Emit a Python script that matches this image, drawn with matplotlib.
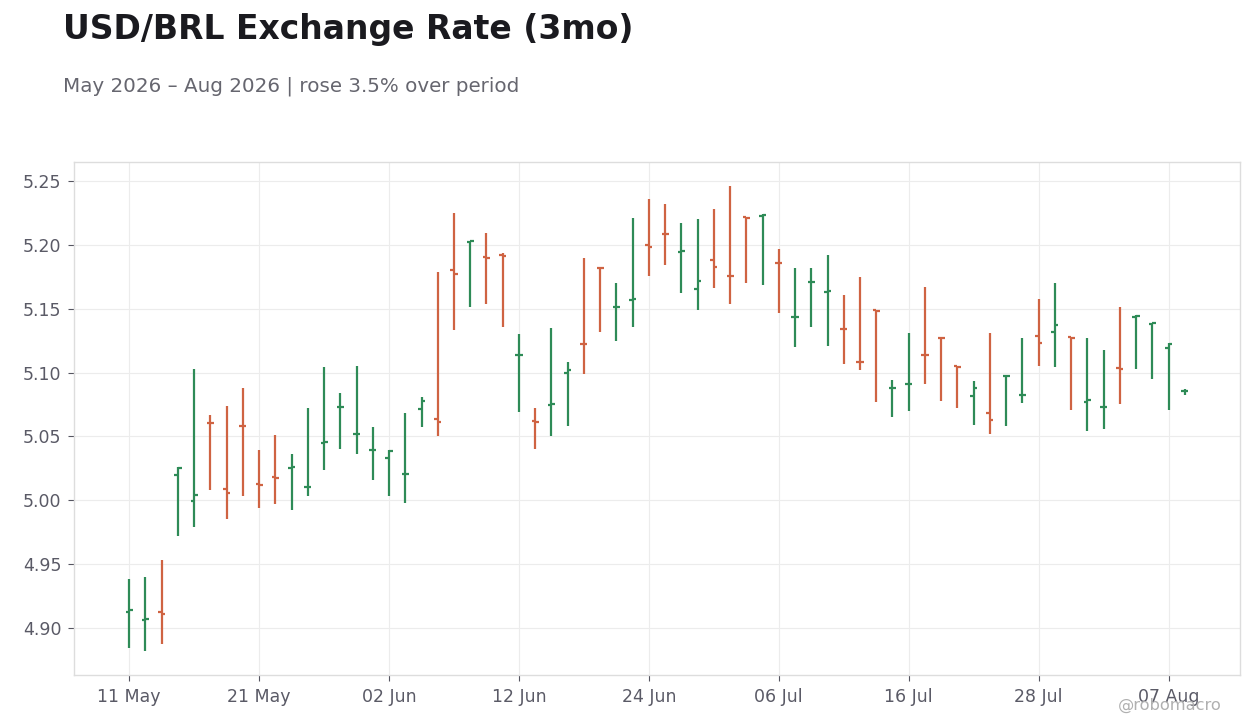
import numpy as np
import pandas as pd
import matplotlib
matplotlib.use("Agg")
import matplotlib.pyplot as plt

# daily OHLC, business days from 11 May 2026
start_date = "2026-05-11"
opens = [4.912, 4.906, 4.912, 5.020, 4.999, 5.0607, 5.0091, 5.058, 5.0124, 5.0178,
         5.0255, 5.0105, 5.0448, 5.0730, 5.0518, 5.0394, 5.0333, 5.0206, 5.0716, 5.0638,
         5.1805, 5.2020, 5.1902, 5.1922, 5.1136, 5.0617, 5.0748, 5.0997, 5.1226, 5.1820,
         5.1511, 5.1571, 5.1997, 5.2085, 5.1948, 5.1654, 5.1880, 5.1760, 5.2216, 5.2230,
         5.1859, 5.1433, 5.1706, 5.1631, 5.1343, 5.1085, 5.1490, 5.0878, 5.0907, 5.1140,
         5.1272, 5.1052, 5.0818, 5.0685, 5.0972, 5.0824, 5.1286, 5.1318, 5.1279, 5.0771,
         5.0730, 5.1036, 5.1432, 5.1380, 5.1193, 5.0855]
highs = [4.938, 4.940, 4.953, 5.026, 5.103, 5.067, 5.074, 5.088, 5.039, 5.051,
         5.036, 5.072, 5.104, 5.084, 5.105, 5.057, 5.039, 5.068, 5.081, 5.179,
         5.225, 5.203, 5.209, 5.194, 5.130, 5.072, 5.135, 5.108, 5.190, 5.182,
         5.170, 5.221, 5.236, 5.232, 5.217, 5.220, 5.228, 5.246, 5.222, 5.224,
         5.197, 5.182, 5.182, 5.192, 5.161, 5.175, 5.149, 5.094, 5.131, 5.167,
         5.127, 5.105, 5.093, 5.131, 5.098, 5.127, 5.158, 5.170, 5.128, 5.127,
         5.118, 5.151, 5.145, 5.139, 5.123, 5.0875]
lows = [4.884, 4.882, 4.887, 4.972, 4.979, 5.008, 4.985, 5.003, 4.994, 4.997,
        4.992, 5.003, 5.024, 5.040, 5.036, 5.016, 5.003, 4.998, 5.057, 5.050,
        5.133, 5.151, 5.154, 5.136, 5.069, 5.040, 5.050, 5.058, 5.099, 5.132,
        5.125, 5.136, 5.176, 5.184, 5.162, 5.149, 5.166, 5.154, 5.170, 5.169,
        5.147, 5.120, 5.136, 5.121, 5.107, 5.102, 5.077, 5.065, 5.070, 5.091,
        5.078, 5.072, 5.059, 5.052, 5.058, 5.076, 5.105, 5.104, 5.071, 5.054,
        5.056, 5.075, 5.103, 5.095, 5.071, 5.0828]
closes = [4.914, 4.907, 4.911, 5.0255, 5.0044, 5.0605, 5.0060, 5.0578, 5.0120, 5.0175,
          5.0263, 5.0107, 5.0452, 5.0733, 5.0521, 5.0397, 5.0388, 5.0209, 5.0779, 5.0615,
          5.1770, 5.2030, 5.1899, 5.1917, 5.1139, 5.0614, 5.0751, 5.1018, 5.1222, 5.1818,
          5.1514, 5.1574, 5.1987, 5.2082, 5.1951, 5.1716, 5.1826, 5.1755, 5.2214, 5.2234,
          5.1856, 5.1436, 5.1709, 5.1637, 5.1340, 5.1082, 5.1482, 5.0881, 5.0910, 5.1137,
          5.1269, 5.1044, 5.0880, 5.0630, 5.0976, 5.0827, 5.1232, 5.1372, 5.1271, 5.0786,
          5.0733, 5.1026, 5.1443, 5.1388, 5.1224, 5.0858]

dates = pd.bdate_range(start_date, periods=len(opens))
x = np.arange(len(opens))
up_col = "#2e8b57"
down_col = "#cf6342"
cols = [up_col if c >= o else down_col for o, c in zip(opens, closes)]

fig = plt.figure(figsize=(12.6, 7.28), dpi=100)
ax = fig.add_axes([74 / 1260, 1 - 675 / 728, (1240 - 74) / 1260, (675 - 162) / 728])

tick_len = 0.22
ax.vlines(x, lows, highs, colors=cols, linewidth=1.6, zorder=3)
ax.hlines(opens, x - tick_len, x, colors=cols, linewidth=1.6, zorder=3)
ax.hlines(closes, x, x + tick_len, colors=cols, linewidth=1.6, zorder=3)

ax.set_xlim(-3.4, 68.4)
ax.set_ylim(4.863, 5.265)
yt = np.arange(4.90, 5.26, 0.05)
ax.set_yticks(yt)
ax.set_yticklabels(["%.2f" % v for v in yt])
tick_idx = x[::8]
ax.set_xticks(tick_idx)
ax.set_xticklabels([dates[i].strftime("%d %b") for i in tick_idx])

ax.grid(True, color="#ececec", linewidth=0.8, zorder=0)
ax.set_axisbelow(True)
for s in ax.spines.values():
    s.set_color("#dddddd")
    s.set_linewidth(1.0)
ax.tick_params(colors="#555560", labelsize=12.5, length=4, width=0.8, pad=5)
for lab in ax.get_xticklabels() + ax.get_yticklabels():
    lab.set_color("#5a5a66")

fig.text(63 / 1260, 1 - 30 / 728, "USD/BRL Exchange Rate (3mo)", fontsize=23.8,
         fontweight="bold", color="#1a1a1f", va="center", ha="left")
pct = (closes[-1] / opens[0] - 1) * 100
fig.text(63 / 1260, 1 - 86 / 728,
         "%s – %s | rose %.1f%% over period" % (dates[0].strftime("%b %Y"), dates[-1].strftime("%b %Y"), pct),
         fontsize=14.3, color="#66666f", va="center", ha="left")
fig.text(1222 / 1260, 1 - 705 / 728, "@robomacro", fontsize=11.7, color="#b0b0b0",
         va="center", ha="right")

fig.savefig("out.png", dpi=100, facecolor="white")
